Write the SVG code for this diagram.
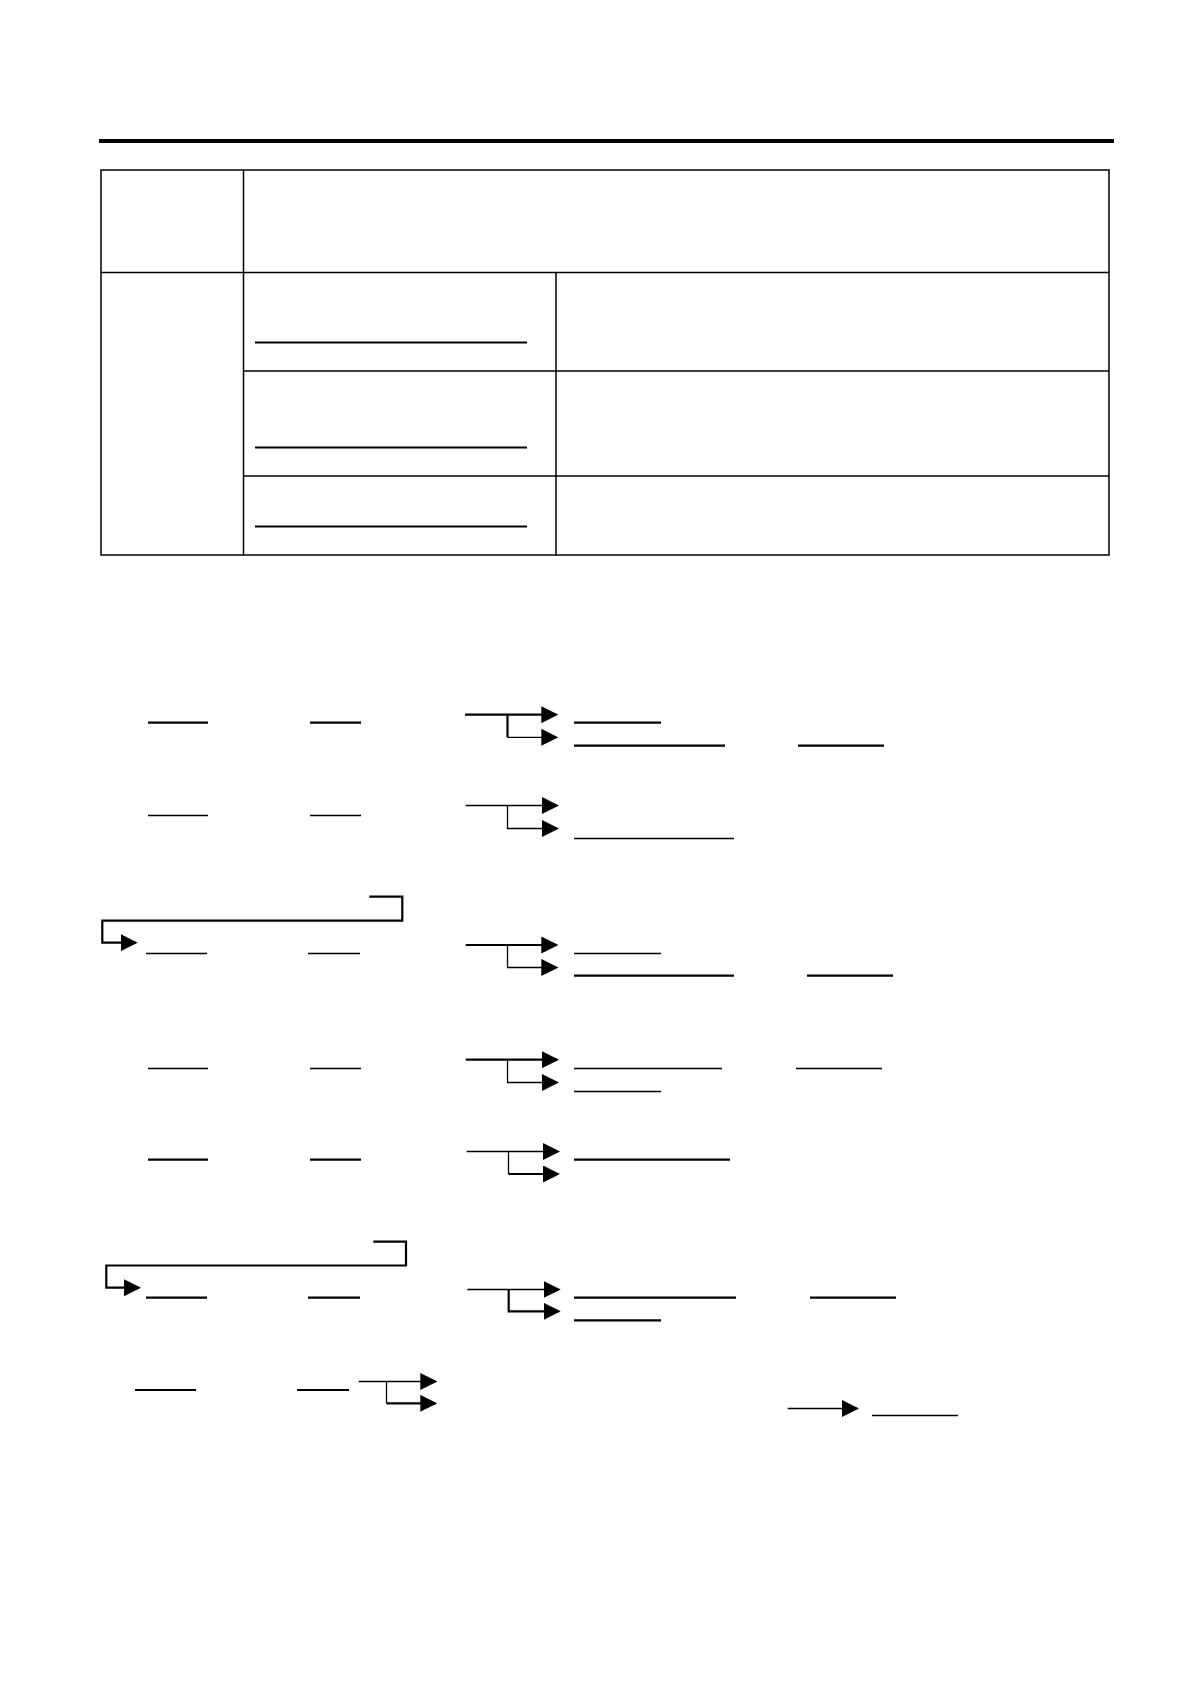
<svg xmlns="http://www.w3.org/2000/svg" width="1190" height="1684" viewBox="0 0 1190 1684">
<style>
line,path{stroke:#000;fill:none;stroke-linecap:butt;stroke-linejoin:miter}
.tb{stroke-width:1.5}
.bar{stroke-width:3.8}
.k{stroke-width:2.2}
.t{stroke-width:1.3}
</style>
<defs>
<marker id="ah" markerUnits="userSpaceOnUse" viewBox="0 0 17 17" markerWidth="17" markerHeight="17" refX="15" refY="8.5" orient="auto">
<path d="M0,0 L17,8.5 L0,17 z" style="fill:#000;stroke:none"/>
</marker>
</defs>
<rect width="1190" height="1684" fill="#fff"/>
<g id="header">
<line class="bar" x1="99" y1="141" x2="1114" y2="141"/>
</g>
<g id="table">
<rect class="tb" x="101" y="170" width="1008" height="385" fill="none" stroke="#000"/>
<line class="tb" x1="243.5" y1="170" x2="243.5" y2="555"/>
<line class="tb" x1="101" y1="272.5" x2="1109" y2="272.5"/>
<line class="tb" x1="556" y1="272.5" x2="556" y2="555"/>
<line class="tb" x1="243.5" y1="371" x2="1109" y2="371"/>
<line class="tb" x1="243.5" y1="476" x2="1109" y2="476"/>
<line class="k" x1="255" y1="342.5" x2="527" y2="342.5"/>
<line class="k" x1="255" y1="447.5" x2="527" y2="447.5"/>
<line class="k" x1="255" y1="526.5" x2="527" y2="526.5"/>
</g>
<g id="row1">
<line class="k" x1="148" y1="722.7" x2="208" y2="722.7"/>
<line class="k" x1="310" y1="722.7" x2="361" y2="722.7"/>
<line class="k" x1="574" y1="722.7" x2="661" y2="722.7"/>
<line class="k" x1="574" y1="745.7" x2="725" y2="745.7"/>
<line class="k" x1="798" y1="745.7" x2="884" y2="745.7"/>
</g>
<g id="row2">
<line class="t" x1="148" y1="815.5" x2="208" y2="815.5"/>
<line class="t" x1="310" y1="815.5" x2="361" y2="815.5"/>
<line class="t" x1="574" y1="838.5" x2="734" y2="838.5"/>
</g>
<g id="row3">
<line class="t" x1="146" y1="953.5" x2="207" y2="953.5"/>
<line class="t" x1="308" y1="953.5" x2="360" y2="953.5"/>
<line class="t" x1="574" y1="953.5" x2="661" y2="953.5"/>
<line class="k" x1="574" y1="975.7" x2="734" y2="975.7"/>
<line class="k" x1="807" y1="975.7" x2="893" y2="975.7"/>
</g>
<g id="row4">
<line class="t" x1="148" y1="1068.5" x2="208" y2="1068.5"/>
<line class="t" x1="310" y1="1068.5" x2="361" y2="1068.5"/>
<line class="t" x1="574" y1="1068.5" x2="722" y2="1068.5"/>
<line class="t" x1="796" y1="1068.5" x2="882" y2="1068.5"/>
<line class="t" x1="574" y1="1091.5" x2="661" y2="1091.5"/>
</g>
<g id="row5">
<line class="k" x1="148" y1="1159.7" x2="208" y2="1159.7"/>
<line class="k" x1="310" y1="1159.7" x2="361" y2="1159.7"/>
<line class="k" x1="574" y1="1159.7" x2="730" y2="1159.7"/>
</g>
<g id="row6">
<line class="k" x1="146" y1="1297.7" x2="207" y2="1297.7"/>
<line class="k" x1="308" y1="1297.7" x2="360" y2="1297.7"/>
<line class="k" x1="574" y1="1297.7" x2="736" y2="1297.7"/>
<line class="k" x1="810" y1="1297.7" x2="896" y2="1297.7"/>
<line class="k" x1="574" y1="1320.3" x2="661" y2="1320.3"/>
</g>
<g id="row7">
<line class="k" x1="135" y1="1390" x2="196" y2="1390"/>
<line class="k" x1="297" y1="1390" x2="349" y2="1390"/>
<line class="t" x1="872" y1="1415.5" x2="958" y2="1415.5"/>
</g>
<g id="connectors">
<path class="k" d="M465,714.7 H556.3" marker-end="url(#ah)"/>
<path class="k" d="M507.5,714.7 V737.3"/>
<path class="t" d="M507.5,737.3 H556.3" marker-end="url(#ah)"/>

<path class="t" d="M465.7,805.5 H557" marker-end="url(#ah)"/>
<path class="t" d="M507.5,805.5 V828.5 H557" marker-end="url(#ah)"/>

<path class="k" d="M369.3,896.7 H402.3 V920.7 H102.3 V942.7 H135.7" marker-end="url(#ah)"/>
<path class="k" d="M465.7,945 H556.3" marker-end="url(#ah)"/>
<path class="t" d="M507.5,945 V967.5 H556.3" marker-end="url(#ah)"/>

<path class="k" d="M465.7,1059.7 H557" marker-end="url(#ah)"/>
<path class="t" d="M507.5,1059.7 V1082.5 H557" marker-end="url(#ah)"/>

<path class="t" d="M466.7,1151.5 H558" marker-end="url(#ah)"/>
<path class="t" d="M508.5,1151.5 V1174"/>
<path class="k" d="M508.5,1174 H558" marker-end="url(#ah)"/>

<path class="k" d="M373.3,1241.7 H406 V1265.5 H106.3 V1287.7 H139" marker-end="url(#ah)"/>
<path class="t" d="M467.3,1289.5 H558.7" marker-end="url(#ah)"/>
<path class="k" d="M508.7,1289.5 V1311.3 H558.7" marker-end="url(#ah)"/>

<path class="t" d="M358.7,1381.5 H435.3" marker-end="url(#ah)"/>
<path class="t" d="M386.5,1381.5 V1403.3"/>
<path class="k" d="M386.5,1403.3 H435.3" marker-end="url(#ah)"/>
<path class="t" d="M787.7,1408.5 H857" marker-end="url(#ah)"/>
</g>
</svg>
